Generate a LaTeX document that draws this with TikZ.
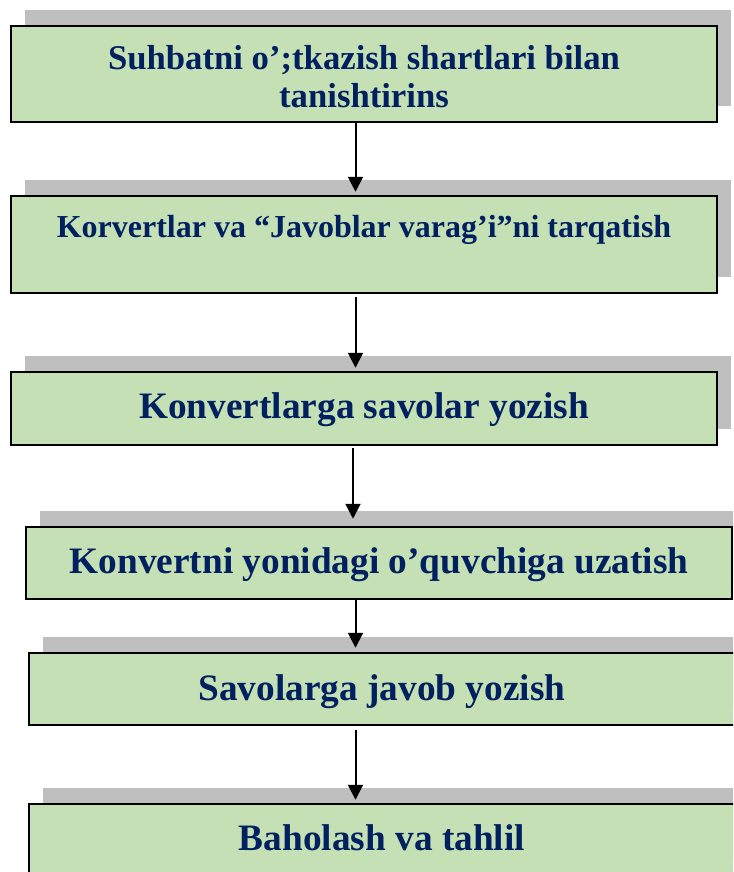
\documentclass[tikz,border=0pt]{standalone}
\usepackage{fontspec}
\setmainfont{Liberation Serif}
\usetikzlibrary{arrows.meta,shadows}
\definecolor{boxgreen}{HTML}{C5E0B4}
\definecolor{shgray}{HTML}{BFBFBF}
\definecolor{navytext}{HTML}{002060}
\begin{document}
\begin{tikzpicture}[x=1pt,y=-1pt,
  stepbox/.style={draw=black, line width=2.5pt, fill=boxgreen, inner sep=0pt,
    minimum width=706pt, text=navytext,
    general shadow={shadow xshift=14pt, shadow yshift=16pt, fill=shgray, draw=none}},
  bigtxt/.style={font=\bfseries\fontsize{37.3}{42}\selectfont},
  arr/.style={-{Triangle[length=15pt,width=15pt]}, line width=2pt, draw=black}]
\fill[white] (0,0) rectangle (733,872);
\clip (0,0) rectangle (733,872);

\node[stepbox, minimum height=96pt, font=\bfseries\fontsize{34.7}{38}\selectfont,
  text height=24pt, text depth=32pt] (b1) at (364,74)
  {\begin{tabular}[t]{@{}c@{}}Suhbatni o’;tkazish shartlari bilan\\tanishtirins\end{tabular}};

\node[stepbox, minimum height=97pt, font=\bfseries\fontsize{32}{38}\selectfont,
  text height=22pt, text depth=37pt] (b2) at (364,244.5)
  {Korvertlar va “Javoblar varag’i”ni tarqatish};

\node[stepbox, bigtxt, minimum height=73pt, text height=25pt, text depth=6pt]
  (b3) at (364,408.5) {Konvertlarga savolar yozish};

\node[stepbox, bigtxt, minimum height=72pt, text height=25pt, text depth=5pt]
  (b4) at (379,563) {Konvertni yonidagi o’quvchiga uzatish};

\node[stepbox, bigtxt, minimum height=72pt, text height=25pt, text depth=3pt]
  (b5) at (382,689) {Savolarga javob yozish};

\node[stepbox, bigtxt, minimum height=73pt, text height=25pt, text depth=6pt]
  (b6) at (382,840.5) {Baholash va tahlil};

\coordinate (ax) at (355.5,0);
\coordinate (axb) at (353,0);
\draw[arr, shorten >=3pt] (b1.south -| ax) -- (b2.north -| ax);
\draw[arr, shorten <=3pt, shorten >=3pt] (b2.south -| ax) -- (b3.north -| ax);
\draw[arr, shorten <=2pt, shorten >=7pt] (b3.south -| axb) -- (b4.north -| axb);
\draw[arr, shorten >=4pt] (b4.south -| ax) -- (b5.north -| ax);
\draw[arr, shorten <=4pt, shorten >=3pt] (b5.south -| ax) -- (b6.north -| ax);
\end{tikzpicture}
\end{document}
